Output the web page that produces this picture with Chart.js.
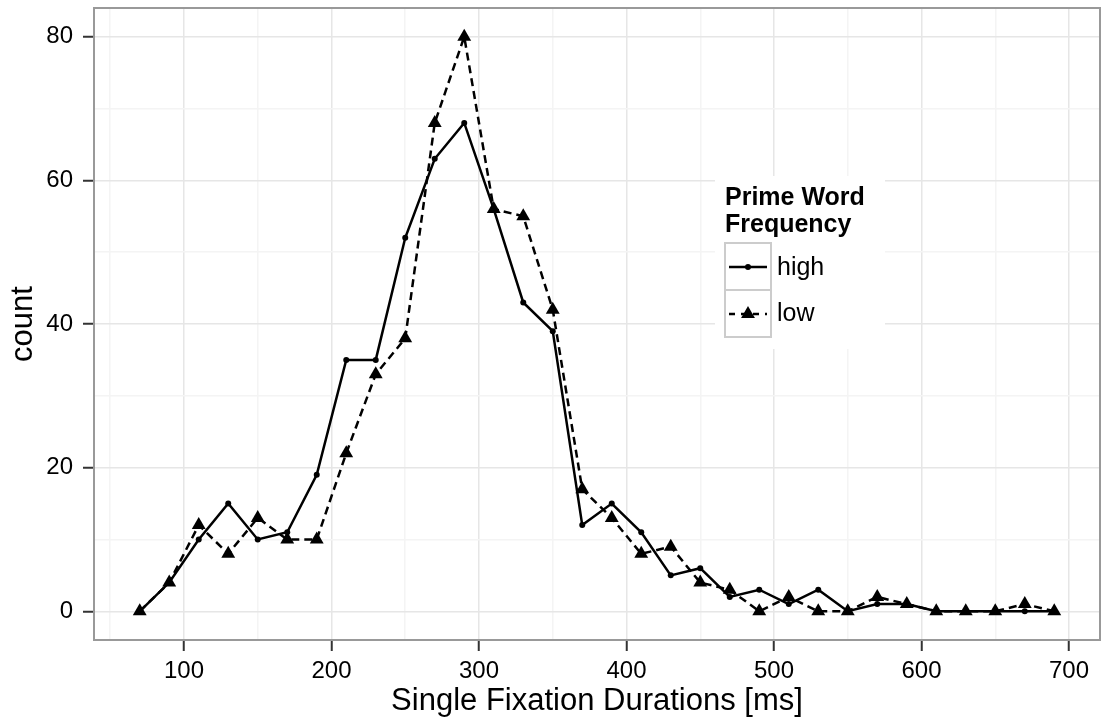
<!DOCTYPE html>
<html>
<head>
    <title>Single Fixation Durations</title>
    <script src="https://cdn.jsdelivr.net/npm/chart.js"></script>
    <style>
        body { margin: 0; background: #fff; }
        #wrap { width: 1104px; height: 727px; }
    </style>
</head>
<body>
<div id="wrap"><canvas id="sfd" width="1104" height="727"></canvas></div>
<script>
// bin centres (ms) and counts per prime word frequency
const bins = [70, 90, 110, 130, 150, 170, 190, 210, 230, 250, 270, 290, 310, 330, 350, 370,
              390, 410, 430, 450, 470, 490, 510, 530, 550, 570, 590, 610, 630, 650, 670, 690];
const highCounts = [0, 4, 10, 15, 10, 11, 19, 35, 35, 52, 63, 68, 56, 43, 39, 12,
                    15, 11, 5, 6, 2, 3, 1, 3, 0, 1, 1, 0, 0, 0, 0, 0];
const lowCounts  = [0, 4, 12, 8, 13, 10, 10, 22, 33, 38, 68, 80, 56, 55, 42, 17,
                    13, 8, 9, 4, 3, 0, 2, 0, 0, 2, 1, 0, 0, 0, 1, 0];

const xGrid = [50, 100, 150, 200, 250, 300, 350, 400, 450, 500, 550, 600, 650, 700];
const xLabels = [100, 200, 300, 400, 500, 600, 700];
const yGrid = [0, 10, 20, 30, 40, 50, 60, 70, 80];
const yLabels = [0, 20, 40, 60, 80];

const FONT = "'Liberation Sans', Arial, sans-serif";

function toPoints(ys) {
    return bins.map((x, i) => ({ x: x, y: ys[i] }));
}

function triangle(ctx, x, y, r) {
    ctx.beginPath();
    for (let k = 0; k < 3; k++) {
        const a = -Math.PI / 2 + k * 2 * Math.PI / 3;
        const px = x + Math.cos(a) * r, py = y + Math.sin(a) * r;
        if (k === 0) ctx.moveTo(px, py); else ctx.lineTo(px, py);
    }
    ctx.closePath();
    ctx.fill();
}

// panel border + ggplot-style legend inside the panel
const panelDeco = {
    id: 'panelDeco',
    afterDraw(chart) {
        const ctx = chart.ctx;
        const a = chart.chartArea;
        ctx.save();
        ctx.strokeStyle = '#999999';
        ctx.lineWidth = 2;
        ctx.strokeRect(a.left, a.top, a.right - a.left, a.bottom - a.top);

        // legend
        ctx.fillStyle = '#ffffff';
        ctx.fillRect(715, 176, 170, 173);
        ctx.fillStyle = '#000';
        ctx.font = 'bold 25px ' + FONT;
        ctx.textBaseline = 'alphabetic';
        ctx.textAlign = 'left';
        ctx.fillText('Prime Word', 725, 205);
        ctx.fillText('Frequency', 725, 232);

        ctx.strokeStyle = '#cccccc';
        ctx.lineWidth = 2;
        ctx.strokeRect(725, 243, 46, 47);
        ctx.strokeRect(725, 290, 46, 47);

        ctx.strokeStyle = '#000';
        ctx.lineWidth = 2.5;
        ctx.beginPath(); ctx.moveTo(729, 267); ctx.lineTo(767, 267); ctx.stroke();
        ctx.beginPath(); ctx.arc(748, 267, 3, 0, 2 * Math.PI); ctx.fill();

        ctx.setLineDash([6, 6]);
        ctx.beginPath(); ctx.moveTo(729, 314); ctx.lineTo(767, 314); ctx.stroke();
        ctx.setLineDash([]);
        triangle(ctx, 748, 314, 8);

        ctx.font = '25px ' + FONT;
        ctx.textBaseline = 'middle';
        ctx.fillText('high', 777, 268);
        ctx.fillText('low', 777, 314);
        ctx.restore();
    }
};

new Chart(document.getElementById('sfd').getContext('2d'), {
    type: 'line',
    data: {
        datasets: [{
            label: 'high',
            data: toPoints(highCounts),
            borderColor: '#000',
            backgroundColor: '#000',
            borderWidth: 2.5,
            pointRadius: 3,
            pointBorderWidth: 0,
            pointBackgroundColor: '#000',
            tension: 0,
            order: 2
        }, {
            label: 'low',
            data: toPoints(lowCounts),
            borderColor: '#000',
            backgroundColor: '#000',
            borderWidth: 2.5,
            borderDash: [8, 5],
            pointStyle: 'triangle',
            pointRadius: 8,
            pointBorderWidth: 0,
            pointBackgroundColor: '#000',
            tension: 0,
            order: 1
        }]
    },
    options: {
        responsive: false,
        animation: false,
        layout: { autoPadding: false, padding: { top: 8, right: 4, left: 0, bottom: 0 } },
        plugins: {
            legend: { display: false },
            tooltip: { enabled: false }
        },
        scales: {
            x: {
                type: 'linear',
                min: 39,
                max: 721,
                afterBuildTicks: s => { s.ticks = xGrid.map(v => ({ value: v })); },
                afterFit: s => { s.height = 87; s.paddingLeft = 0; s.paddingRight = 0; },
                border: { display: false },
                grid: {
                    color: c => xLabels.includes(c.tick.value) ? '#e6e6e6' : '#f4f4f4',
                    lineWidth: 1.5,
                    tickLength: 11,
                    tickWidth: 2,
                    tickColor: c => xLabels.includes(c.tick.value) ? '#333333' : 'rgba(0,0,0,0)'
                },
                ticks: {
                    autoSkip: false,
                    maxRotation: 0,
                    padding: 6,
                    color: '#000',
                    font: { family: FONT, size: 24 },
                    callback: v => xLabels.includes(v) ? String(v) : ''
                },
                title: {
                    display: true,
                    text: 'Single Fixation Durations [ms]',
                    color: '#000',
                    font: { family: FONT, size: 31 },
                    padding: { top: 0, bottom: 7 }
                }
            },
            y: {
                type: 'linear',
                min: -4,
                max: 84,
                afterBuildTicks: s => { s.ticks = yGrid.map(v => ({ value: v })); },
                afterFit: s => { s.width = 94; s.paddingTop = 0; s.paddingBottom = 0; },
                border: { display: false },
                grid: {
                    color: c => yLabels.includes(c.tick.value) ? '#e6e6e6' : '#f4f4f4',
                    lineWidth: 1.5,
                    tickLength: 11,
                    tickWidth: 2,
                    tickColor: c => yLabels.includes(c.tick.value) ? '#333333' : 'rgba(0,0,0,0)'
                },
                ticks: {
                    autoSkip: false,
                    padding: 10,
                    color: '#000',
                    font: { family: FONT, size: 24 },
                    callback: v => yLabels.includes(v) ? String(v) : ''
                },
                title: {
                    display: true,
                    text: 'count',
                    color: '#000',
                    font: { family: FONT, size: 31 },
                    padding: { top: 5, bottom: 0 }
                }
            }
        }
    },
    plugins: [panelDeco]
});
</script>
</body>
</html>
